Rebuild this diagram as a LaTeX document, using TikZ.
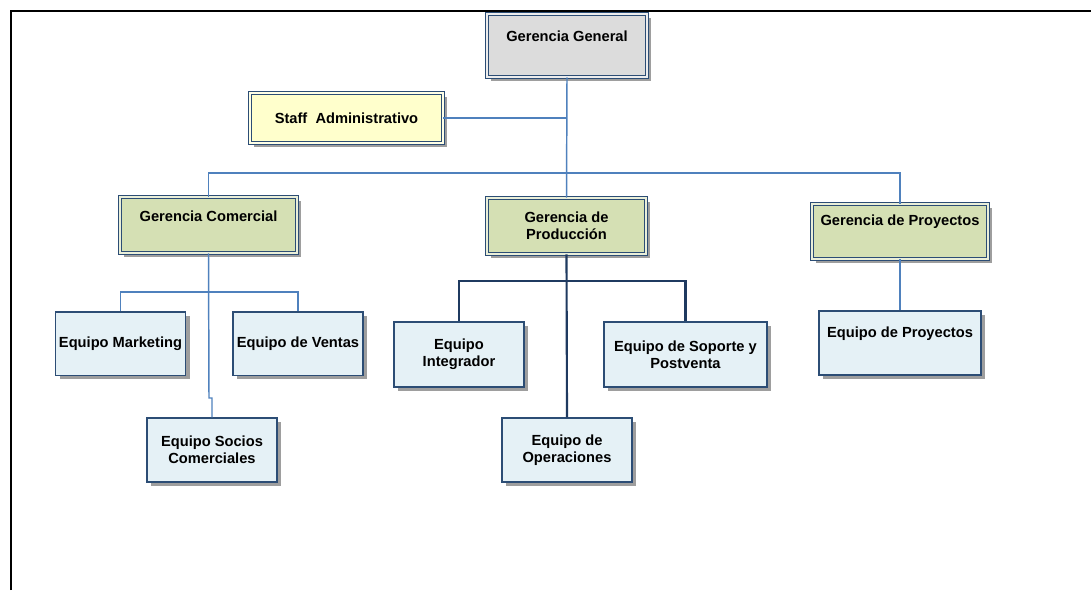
\documentclass[tikz,border=0pt]{standalone}
\usepackage{fontspec}
\setmainfont{Liberation Sans}
\usetikzlibrary{shadows}
\definecolor{linkblue}{HTML}{4F81BD}
\definecolor{navy}{HTML}{1F3A60}
\definecolor{edge}{HTML}{2C4D75}
\definecolor{ggfill}{HTML}{DCDCDC}
\definecolor{stafffill}{HTML}{FFFFCC}
\definecolor{gerfill}{HTML}{D5E0B4}
\definecolor{eqfill}{HTML}{E5F1F6}

\begin{document}
\begin{tikzpicture}[x=0.75pt,y=-0.75pt,
  txt/.style={font=\bfseries\fontsize{11}{12.75}\selectfont, align=center, inner sep=0pt},
  shade/.style={drop shadow={shadow xshift=3pt,shadow yshift=-3pt,fill=black!38,opacity=1}},
  unit/.style={txt, rectangle, shade, draw=edge, line width=0.7pt, double distance=1pt},
  equipo/.style={txt, rectangle, shade, draw=edge, line width=1pt, fill=eqfill},
  link/.style={draw=linkblue, line width=1.1pt},
  deeplink/.style={draw=navy, line width=1.6pt}
]
\useasboundingbox (0,0) rectangle (1091,590);

% page frame (top and left rules only)
\draw[line width=1.6pt] (11,590) -- (11,11) -- (1091,11);

% management boxes
\node[unit, fill=ggfill, double=ggfill!50!white, minimum width=120pt, minimum height=47.25pt] (gg) at (567,45.5) {};
\node[txt] (ggt) at (567,36) {Gerencia General};

\node[unit, fill=stafffill, double=stafffill!50!white, minimum width=144.75pt, minimum height=37.5pt] (staff) at (346.5,118) {Staff~ Administrativo};

\node[unit, fill=gerfill, double=gerfill!50!white, minimum width=132.75pt, minimum height=42pt] (gc) at (208.5,225) {};
\node[txt] (gct) at (208.5,216) {Gerencia Comercial};

\node[unit, fill=gerfill, double=gerfill!50!white, minimum width=119.25pt, minimum height=42pt] (gprod) at (566.5,226) {Gerencia de\\Producción};

\node[unit, fill=gerfill, double=gerfill!50!white, minimum width=132pt, minimum height=41.25pt] (gproy) at (900,231.5) {};
\node[txt] (gproyt) at (900,222) {Gerencia de Proyectos};

% teams
\node[equipo, minimum width=97.5pt, minimum height=47.5pt] (em) at (120.5,343.5) {Equipo Marketing};
\node[equipo, minimum width=97.5pt, minimum height=47.5pt] (ev) at (298,343.5) {Equipo de Ventas};
\node[equipo, minimum width=97.5pt, minimum height=48pt] (esc) at (212,450) {Equipo Socios\\Comerciales};

\node[equipo, minimum width=97.5pt, minimum height=48.75pt] (ei) at (459,354.5) {Equipo\\Integrador};
\node[equipo, minimum width=122.25pt, minimum height=48.75pt] (esp) at (685.5,354.5) {Equipo de Soporte y\\Postventa};
\node[equipo, minimum width=97.5pt, minimum height=48pt] (eo) at (567,450) {Equipo de\\Operaciones};

\node[equipo, minimum width=121.5pt, minimum height=48pt] (eproy) at (900,343) {};
\node[txt] (eproyt) at (900,334) {Equipo de Proyectos};

% connectors
\coordinate (topbus) at (567,173);
\coordinate (gcbus) at (209,292);
\coordinate (gcjog) at (209,398);
\coordinate (pbus) at (567,281);

\draw[link] (gg.south) -- (gprod.north);
\draw[link] (staff.east) -- (staff.east -| gg.south);
\draw[link] (gc.north) |- (topbus) -| (gproy.north);

\draw[link] (em.north) |- (gcbus) -| (ev.north);
\draw[link] (gc.south) -- (gcjog) -| (esc.north);

\draw[deeplink] (ei.north) |- (pbus) -| (esp.north);
\draw[deeplink] (gprod.south) -- (eo.north);

\draw[link] (gproy.south) -- (eproy.north);
\end{tikzpicture}
\end{document}
